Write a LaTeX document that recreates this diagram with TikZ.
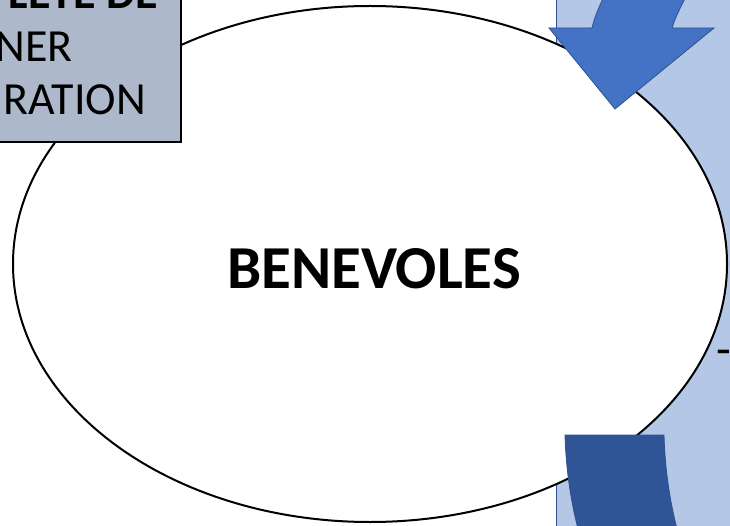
\documentclass[tikz,border=0pt]{standalone}
\usepackage{fontspec}
\setmainfont{Carlito}
\usetikzlibrary{shapes.geometric}
\definecolor{lightblue}{HTML}{B4C7E7}
\definecolor{accblue}{HTML}{4472C4}
\definecolor{darkblue}{HTML}{2F5597}
\definecolor{edgeblue}{HTML}{2F528F}
\definecolor{boxgray}{HTML}{ADB9CA}
\tikzset{
  boxtext/.style={inner sep=0pt, anchor=base east, font=\fontsize{46}{53}\selectfont},
  arrowshape/.style={draw=edgeblue, line width=0.8pt, line join=miter}
}
\begin{document}
\begin{tikzpicture}[x=1pt,y=-1pt]
\useasboundingbox (0,0) rectangle (730,526);
\clip (0,0) rectangle (730,526);
% light blue panel
\path[fill=lightblue, draw=edgeblue, line width=0.8pt] (556,-10) rectangle (760,540);
% ellipse
\node[ellipse, draw=black, fill=white, line width=2pt, inner sep=0pt,
      minimum width=714pt, minimum height=516pt] (ben) at (370,264) {};
\node[inner sep=0pt, anchor=base, font=\fontsize{61}{72}\selectfont\bfseries] (lbl) at (374,288) {BENEVOLES};
% top arrow
\path[arrowshape, fill=accblue] (607,-10) .. controls (600,5) and (595,15) .. (592,28)
  -- (549,28) -- (615,109) -- (714,28) -- (672,28)
  .. controls (676,15) and (682,5) .. (689,-10) -- cycle;
% bottom arrow
\path[arrowshape, fill=darkblue] (565,435) -- (664,435)
  .. controls (665,470) and (670,505) .. (680,540) -- (581,540)
  .. controls (571,505) and (566,470) .. (565,435) -- cycle;
% gray box
\path[fill=boxgray, draw=black, line width=1.4pt] (-10,-10) rectangle (181,142);
\node[boxtext, font=\fontsize{46}{53}\selectfont\bfseries] (t1) at (158,9) {LETE DE};
\node[boxtext] (t2) at (73,62) {NER};
\node[boxtext] (t3) at (146,115) {RATION};
% dash
\node[inner sep=0pt, anchor=base west, font=\fontsize{48}{56}\selectfont] (dash) at (716,365) {-};
\end{tikzpicture}
\end{document}
